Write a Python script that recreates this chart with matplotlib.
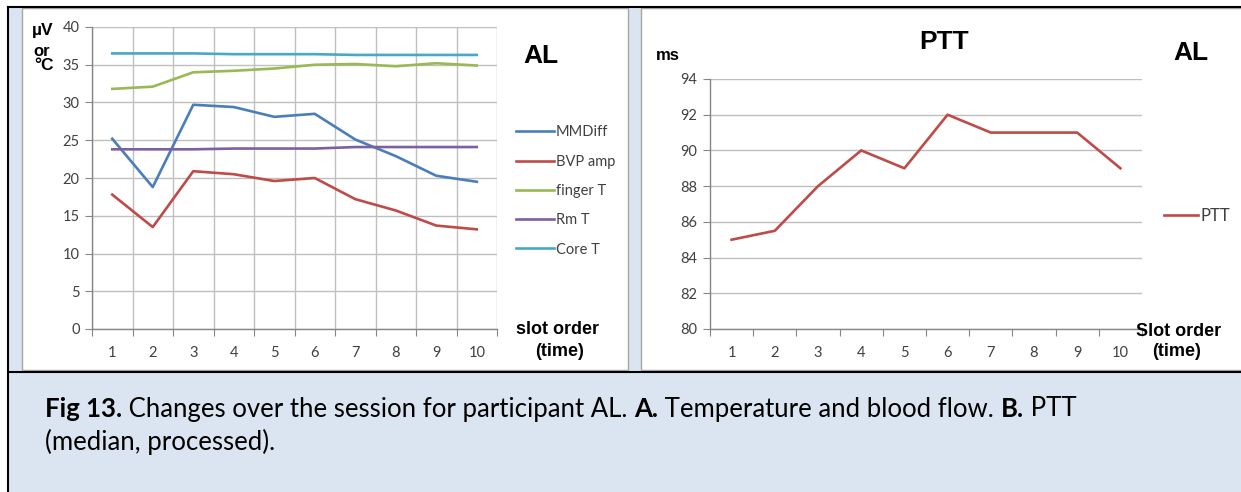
import matplotlib
matplotlib.use('Agg')
import matplotlib.pyplot as plt
from matplotlib.patches import Rectangle
from matplotlib.lines import Line2D

# data
slots = [1, 2, 3, 4, 5, 6, 7, 8, 9, 10]
mmdiff = [25.2, 18.8, 29.7, 29.4, 28.1, 28.5, 25.1, 22.9, 20.3, 19.5]
bvp_amp = [17.8, 13.5, 20.9, 20.5, 19.6, 20.0, 17.2, 15.7, 13.7, 13.2]
finger_t = [31.8, 32.1, 34.0, 34.2, 34.5, 35.0, 35.1, 34.8, 35.2, 34.9]
rm_t = [23.8, 23.8, 23.8, 23.9, 23.9, 23.9, 24.1, 24.1, 24.1, 24.1]
core_t = [36.5, 36.5, 36.5, 36.4, 36.4, 36.4, 36.3, 36.3, 36.3, 36.3]
ptt = [85, 85.5, 88, 90, 89, 92, 91, 91, 91, 89]

series_a = [('MMDiff', mmdiff, '#4a7ebb'),
            ('BVP amp', bvp_amp, '#be4b48'),
            ('finger T', finger_t, '#98b954'),
            ('Rm T', rm_t, '#7d60a0'),
            ('Core T', core_t, '#46aac5')]

W, H = 1241, 492
BLUE_BG = '#dbe5f1'
GRID = '#bfbfbf'
AXIS = '#868686'
TICK_FONT = 'Lato'
BOLD_FONT = 'Liberation Sans'


def fx(x):
    return x / W


def fy(y):
    return 1 - y / H


def rect(x0, y0, x1, y1, **kw):
    return Rectangle((fx(x0), fy(y1)), fx(x1) - fx(x0), fy(y0) - fy(y1),
                     transform=fig.transFigure, zorder=-5, **kw)


def bold(x, y, s, size, ha='center'):
    fig.text(fx(x), fy(y), s, fontfamily=BOLD_FONT, fontweight='bold',
             fontsize=size, va='center', ha=ha)


def category_axis(ax, grid_x):
    ax.set_xlim(0.5, len(slots) + 0.5)
    ax.set_xticks([s - 0.5 for s in slots] + [len(slots) + 0.5])
    ax.set_xticklabels([])
    ax.set_xticks(slots, minor=True)
    ax.set_xticklabels([str(s) for s in slots], minor=True,
                       fontfamily=TICK_FONT, fontsize=10.5, color='#404040')
    ax.tick_params(axis='x', which='major', length=5, color=AXIS, direction='out')
    ax.tick_params(axis='x', which='minor', length=0, pad=12)
    ax.tick_params(axis='y', length=5, color=AXIS, labelsize=10.5,
                   labelcolor='#404040', pad=4)
    for lab in ax.get_yticklabels():
        lab.set_fontfamily(TICK_FONT)
    for side in ('top', 'right'):
        ax.spines[side].set_visible(False)
    for side in ('left', 'bottom'):
        ax.spines[side].set_color(AXIS)
        ax.spines[side].set_linewidth(1.0)
    ax.set_facecolor('none')
    ax.set_axisbelow(True)
    ax.grid(axis='y', color=GRID, linewidth=1.0)
    if grid_x:
        ax.grid(axis='x', which='major', color=GRID, linewidth=1.0)


fig = plt.figure(figsize=(W / 100, H / 100), dpi=100)

# frame and panel backgrounds
fig.patches.append(rect(9, 8, W, H, facecolor=BLUE_BG, edgecolor='none'))
fig.patches.append(rect(22, 8, 628, 370, facecolor='white', edgecolor='#a6a6a6', linewidth=1))
fig.patches.append(rect(641, 8, W + 2, 370, facecolor='white', edgecolor='#a6a6a6', linewidth=1))
for xs, ys in [((8, W), (7, 7)), ((8, 8), (7, H)), ((9, W), (372, 372))]:
    fig.lines.append(Line2D([fx(v) for v in xs], [fy(v) for v in ys],
                            transform=fig.transFigure, color='black', linewidth=1.5))

# panel A
ax1 = fig.add_axes([fx(92), fy(329), fx(497) - fx(92), fy(27) - fy(329)])
for name, vals, col in series_a:
    ax1.plot(slots, vals, color=col, linewidth=1.9, label=name)
ax1.set_ylim(0, 40)
ax1.set_yticks(range(0, 41, 5))
category_axis(ax1, grid_x=True)
ax1.legend(loc='upper left', bbox_to_anchor=(fx(509), fy(118)),
           bbox_transform=fig.transFigure, frameon=False, borderpad=0,
           handlelength=2.6, handletextpad=0.1, labelspacing=1.05,
           prop={'family': TICK_FONT, 'size': 10.5}, labelcolor='#404040')

bold(43, 31, 'µV', 12.5)
bold(42, 51, 'or', 12)
bold(44, 66, '°C', 12.5)
bold(541, 56, 'AL', 19)
bold(558, 330, 'slot order', 13)
bold(560, 351, '(time)', 13)

# panel B
ax2 = fig.add_axes([fx(710), fy(329), fx(1142) - fx(710), fy(79) - fy(329)])
ax2.plot(slots, ptt, color='#be4b48', linewidth=1.9, label='PTT')
ax2.set_ylim(80, 94)
ax2.set_yticks(range(80, 95, 2))
category_axis(ax2, grid_x=False)
ax2.legend(loc='center left', bbox_to_anchor=(fx(1156), fy(216)),
           bbox_transform=fig.transFigure, frameon=False, borderpad=0,
           handlelength=2.0, handletextpad=0.15,
           prop={'family': TICK_FONT, 'size': 12}, labelcolor='#404040')

bold(668, 55, 'ms', 12)
bold(944, 42, 'PTT', 19)
bold(1191, 53, 'AL', 19)
bold(1179, 332, 'Slot order', 13)
bold(1177, 352, '(time)', 13)

# caption
cap_size = 18.5
cap_y1 = fy(409)
t = fig.text(fx(45), cap_y1, 'Fig 13.', fontfamily=TICK_FONT, fontweight='bold',
             fontsize=cap_size, va='center', ha='left')
fig.canvas.draw()
r = fig.canvas.get_renderer()
x = t.get_window_extent(r).x1
parts = [(' Changes over the session for participant AL. ', 'normal'),
         ('A.', 'bold'), (' Temperature and blood flow. ', 'normal'),
         ('B.', 'bold'), (' PTT', 'normal')]
for txt, wt in parts:
    tt = fig.text(x / W, cap_y1, txt, fontfamily=TICK_FONT, fontweight=wt,
                  fontsize=cap_size, va='center', ha='left')
    x = tt.get_window_extent(r).x1
fig.text(fx(45), fy(442), '(median, processed).', fontfamily=TICK_FONT,
         fontsize=cap_size, va='center', ha='left')

fig.savefig('out.png', dpi=100)
